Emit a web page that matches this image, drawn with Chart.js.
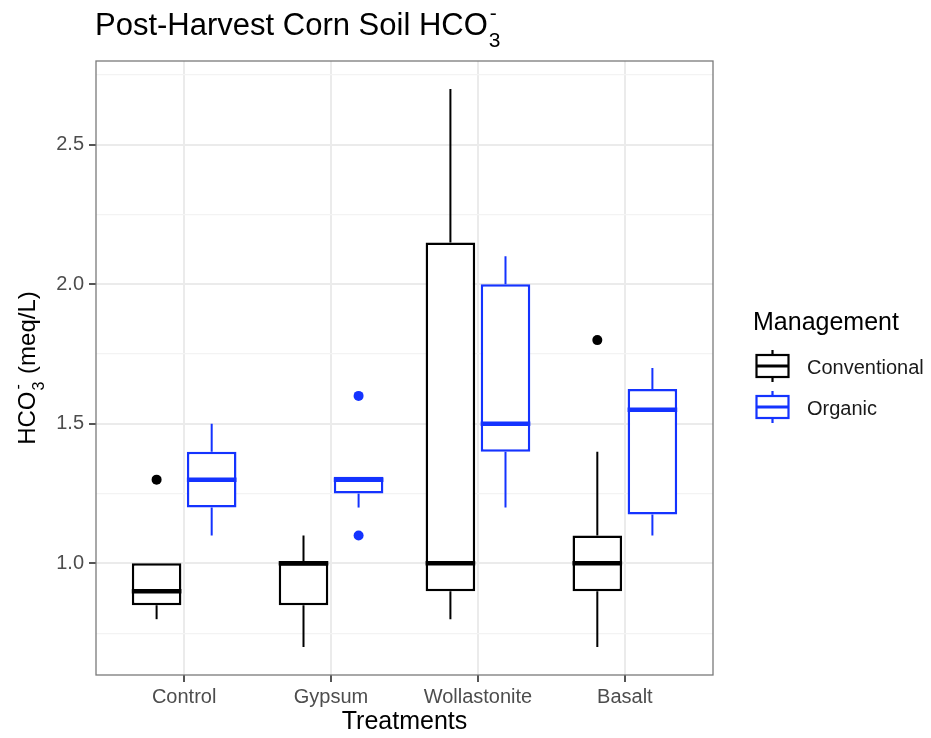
<!DOCTYPE html>
<html>
<head>
<meta charset="utf-8">
<script src="https://cdn.jsdelivr.net/npm/chart.js@4/dist/chart.umd.min.js"></script>
<style>
body { margin: 0; background: #fff; }
#wrap { width: 931px; height: 738px; }
</style>
</head>
<body>
<div id="wrap"><canvas id="hco3"></canvas></div>
<script>
var treatments = ['Control', 'Gypsum', 'Wollastonite', 'Basalt'];
var yTicks = [0.75, 1.0, 1.25, 1.5, 1.75, 2.0, 2.25, 2.5, 2.75];

// Conventional: whisker ends, quartiles, median, outliers
var convLow = [0.8, 0.7, 0.8, 0.7];
var convQ1 = [0.85, 0.85, 0.9, 0.9];
var convMed = [0.9, 1.0, 1.0, 1.0];
var convQ3 = [1.0, 1.0, 2.15, 1.1];
var convHigh = [1.0, 1.1, 2.7, 1.4];
var convOut = [[1.3], [], [], [1.8]];

// Organic
var orgLow = [1.1, 1.2, 1.2, 1.1];
var orgQ1 = [1.2, 1.25, 1.4, 1.175];
var orgMed = [1.3, 1.3, 1.5, 1.55];
var orgQ3 = [1.4, 1.31, 2.0, 1.625];
var orgHigh = [1.5, 1.31, 2.1, 1.7];
var orgOut = [[], [1.1, 1.6], [], []];

var BLACK = '#000000';
var BLUE = '#1433ff';
var FONT = '"Liberation Sans", Arial, Helvetica, sans-serif';

Chart.defaults.font.family = FONT;

function boxData(q1, q3) {
	return treatments.map(function (t, i) {
		return { x: i + 1, y: [q1[i], q3[i]] };
	});
}

function isMajor(v) {
	return Math.abs(v * 2 - Math.round(v * 2)) < 1e-6;
}

// HCO3 with stacked sub/superscript, returns width drawn
function drawHCO3(ctx, x, y, size, tail, measureOnly) {
	var small = Math.round(size * 0.68);
	ctx.font = size + 'px ' + FONT;
	var w = ctx.measureText('HCO').width;
	ctx.font = small + 'px ' + FONT;
	var sw = ctx.measureText('3').width;
	ctx.font = size + 'px ' + FONT;
	var tw = tail ? ctx.measureText(tail).width : 0;
	var total = w + sw + 2 + tw;
	if (measureOnly) return total;
	ctx.fillText('HCO', x, y);
	ctx.font = small + 'px ' + FONT;
	ctx.fillText('3', x + w + 1, y + size * 0.38);
	ctx.fillText('-', x + w + 2, y - size * 0.48);
	if (tail) {
		ctx.font = size + 'px ' + FONT;
		ctx.fillText(tail, x + w + sw + 2, y);
	}
	return total;
}

// whiskers, medians and outlying points on top of the bar boxes
var boxParts = {
	id: 'boxParts',
	afterDatasetsDraw: function (chart) {
		var ctx = chart.ctx;
		var ys = chart.scales.y;
		ctx.save();
		chart.data.datasets.forEach(function (ds, d) {
			var meta = chart.getDatasetMeta(d);
			meta.data.forEach(function (bar, i) {
				var x = bar.x, half = bar.width / 2;
				ctx.strokeStyle = ds.borderColor;
				ctx.lineWidth = 2;
				ctx.lineCap = 'butt';
				ctx.beginPath();
				ctx.moveTo(x, ys.getPixelForValue(ds.high[i]));
				ctx.lineTo(x, ys.getPixelForValue(ds.q3[i]));
				ctx.moveTo(x, ys.getPixelForValue(ds.q1[i]));
				ctx.lineTo(x, ys.getPixelForValue(ds.low[i]));
				ctx.stroke();

				ctx.lineWidth = 4.5;
				ctx.beginPath();
				var my = ys.getPixelForValue(ds.med[i]);
				ctx.moveTo(x - half, my);
				ctx.lineTo(x + half, my);
				ctx.stroke();

				ctx.fillStyle = ds.borderColor;
				ds.out[i].forEach(function (v) {
					ctx.beginPath();
					ctx.arc(x, ys.getPixelForValue(v), 5, 0, Math.PI * 2);
					ctx.fill();
				});
			});
		});
		ctx.restore();
	},
	afterDraw: function (chart) {
		var ctx = chart.ctx;
		var a = chart.chartArea;
		ctx.save();

		// panel border
		ctx.strokeStyle = '#7a7a7a';
		ctx.lineWidth = 1.3;
		ctx.strokeRect(a.left, a.top, a.right - a.left, a.bottom - a.top);

		// title
		ctx.fillStyle = '#000';
		ctx.textAlign = 'left';
		ctx.textBaseline = 'alphabetic';
		var tSize = 31;
		ctx.font = tSize + 'px ' + FONT;
		var lead = 'Post-Harvest Corn Soil ';
		ctx.fillText(lead, a.left - 1, 35);
		var lw = ctx.measureText(lead).width;
		drawHCO3(ctx, a.left - 1 + lw, 35, tSize, '');

		// y axis title
		var ySize = 24;
		var tot = drawHCO3(ctx, 0, 0, ySize, ' (meq/L)', true);
		ctx.save();
		ctx.translate(35, (a.top + a.bottom) / 2);
		ctx.rotate(-Math.PI / 2);
		drawHCO3(ctx, -tot / 2, 0, ySize, ' (meq/L)');
		ctx.restore();

		// x axis title
		ctx.font = '25px ' + FONT;
		ctx.textAlign = 'center';
		ctx.textBaseline = 'middle';
		ctx.fillText('Treatments', (a.left + a.right) / 2, 722);

		// legend
		ctx.textAlign = 'left';
		ctx.font = '25px ' + FONT;
		ctx.fillText('Management', 753, 323);
		ctx.font = '20px ' + FONT;
		chart.data.datasets.forEach(function (ds, d) {
			var cy = 366 + d * 41;
			var cx = 772.5;
			ctx.strokeStyle = ds.borderColor;
			ctx.lineWidth = 2.2;
			ctx.beginPath();
			ctx.moveTo(cx, cy - 16);
			ctx.lineTo(cx, cy - 11);
			ctx.moveTo(cx, cy + 11);
			ctx.lineTo(cx, cy + 16);
			ctx.stroke();
			ctx.fillStyle = '#fff';
			ctx.fillRect(cx - 16, cy - 11, 32, 22);
			ctx.strokeRect(cx - 16, cy - 11, 32, 22);
			ctx.lineWidth = 3;
			ctx.beginPath();
			ctx.moveTo(cx - 16, cy);
			ctx.lineTo(cx + 16, cy);
			ctx.stroke();
			ctx.fillStyle = '#1a1a1a';
			ctx.fillText(ds.label, 807, cy + 2);
		});
		ctx.restore();
	}
};

var ctx = document.getElementById('hco3').getContext('2d');
new Chart(ctx, {
	type: 'bar',
	data: {
		datasets: [
			{
				label: 'Conventional',
				data: boxData(convQ1, convQ3),
				low: convLow, q1: convQ1, med: convMed, q3: convQ3, high: convHigh, out: convOut,
				borderColor: BLACK,
				backgroundColor: '#ffffff',
				borderWidth: 2.5,
				borderSkipped: false,
				categoryPercentage: 0.75,
				barPercentage: 0.9
			},
			{
				label: 'Organic',
				data: boxData(orgQ1, orgQ3),
				low: orgLow, q1: orgQ1, med: orgMed, q3: orgQ3, high: orgHigh, out: orgOut,
				borderColor: BLUE,
				backgroundColor: '#ffffff',
				borderWidth: 2.5,
				borderSkipped: false,
				categoryPercentage: 0.75,
				barPercentage: 0.9
			}
		]
	},
	options: {
		responsive: true,
		maintainAspectRatio: false,
		animation: false,
		layout: { padding: { left: 50, top: 61, right: 218, bottom: 0 } },
		plugins: {
			legend: { display: false },
			tooltip: { enabled: false }
		},
		scales: {
			x: {
				type: 'linear',
				min: 0.4,
				max: 4.6,
				offset: false,
				afterBuildTicks: function (s) {
					s.ticks = treatments.map(function (t, i) { return { value: i + 1 }; });
				},
				afterFit: function (s) { s.height = 63; },
				ticks: {
					callback: function (v) { return treatments[Math.round(v) - 1]; },
					font: { size: 20 },
					color: '#4d4d4d',
					padding: 3,
					autoSkip: false,
					maxRotation: 0
				},
				grid: { color: '#ebebeb', lineWidth: 2, tickColor: '#555', tickLength: 7, offset: false },
				border: { display: false }
			},
			y: {
				min: 0.6,
				max: 2.8,
				afterBuildTicks: function (s) {
					s.ticks = yTicks.map(function (v) { return { value: v }; });
				},
				afterFit: function (s) { s.width = 46; },
				ticks: {
					callback: function (v) { return isMajor(v) ? v.toFixed(1) : ''; },
					font: { size: 20 },
					color: '#4d4d4d',
					padding: 5,
					autoSkip: false
				},
				grid: {
					color: function (c) { return isMajor(c.tick.value) ? '#ebebeb' : '#f3f3f3'; },
					lineWidth: function (c) { return isMajor(c.tick.value) ? 2 : 1.2; },
					tickColor: function (c) { return isMajor(c.tick.value) ? '#555' : 'rgba(0,0,0,0)'; },
					tickLength: 7
				},
				border: { display: false }
			}
		}
	},
	plugins: [boxParts]
});
</script>
</body>
</html>
